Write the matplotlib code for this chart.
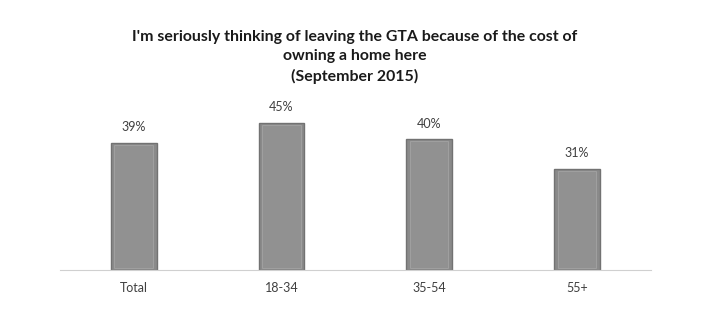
import matplotlib.pyplot as plt
import numpy as np

categories = ["Total", "18-34", "35-54", "55+"]
values = [39, 45, 40, 31]
labels = ["39%", "45%", "40%", "31%"]

plt.rcParams['font.family'] = ['Lato', 'DejaVu Sans']

fig = plt.figure(figsize=(7.03, 3.21), dpi=100)
ax = fig.add_axes([0.085, 0.159, 0.841, 0.529])

x = np.arange(len(categories))
w = 0.31
ax.bar(x, values, width=w, color="#8a8a8a", edgecolor="#727272", linewidth=1.0, zorder=2)
# lighter inner band to hint at the bevel
ax.bar(x, np.array(values) - 1.2, width=w - 0.05, bottom=0.6, color="#919191",
       edgecolor="#a0a0a0", linewidth=0.7, zorder=3)

for xi, v, t in zip(x, values, labels):
    ax.text(xi, v + 3, t, ha="center", va="bottom", fontsize=9, color="#404040")

ax.set_xlim(-0.5, len(categories) - 0.5)
ax.set_ylim(0, 52)
ax.set_xticks(x)
ax.set_xticklabels(categories, fontsize=9, color="#404040")
ax.tick_params(axis="x", length=0, pad=9)
ax.set_yticks([])
for s in ["top", "right", "left"]:
    ax.spines[s].set_visible(False)
ax.spines["bottom"].set_color("#d0d0d0")

fig.text(0.505, 0.823, "I'm seriously thinking of leaving the GTA because of the cost of\nowning a home here\n(September 2015)",
         ha="center", va="center", fontsize=11.4, fontweight="bold", color="#1a1a1a", linespacing=1.5)

fig.savefig("out.png", dpi=100, facecolor="white")
